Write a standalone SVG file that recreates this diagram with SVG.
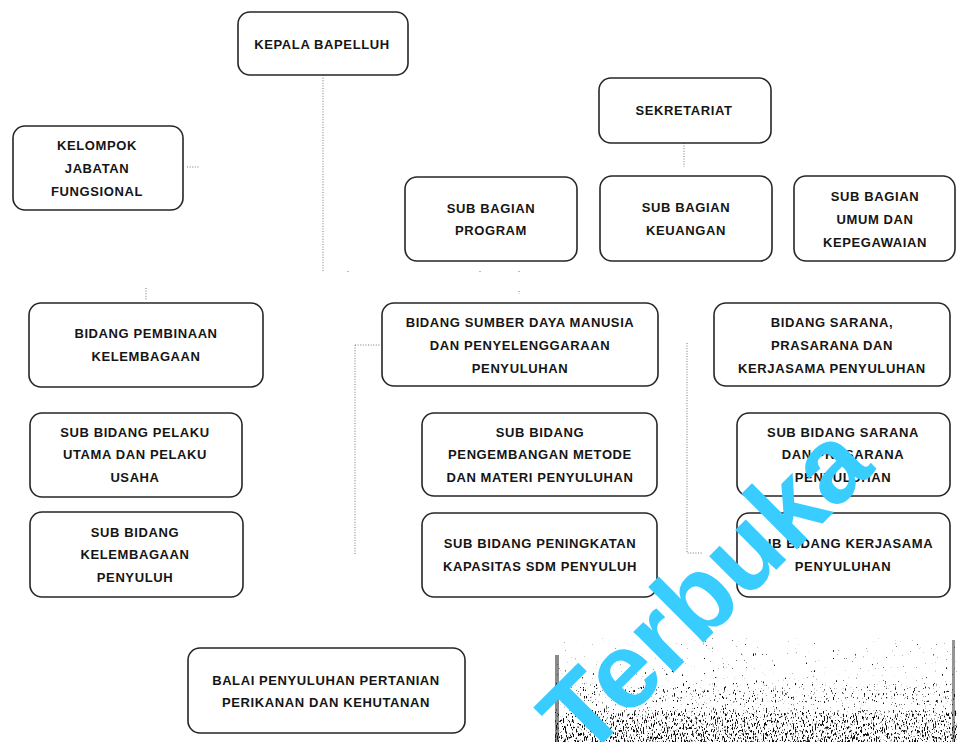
<svg xmlns="http://www.w3.org/2000/svg" width="957" height="742" viewBox="0 0 957 742">
<defs>
<style>
.box{fill:#fff;stroke:#262626;stroke-width:1.6}
.t{font-family:"Liberation Sans",Arial,sans-serif;font-weight:bold;font-size:13px;letter-spacing:0.6px;fill:#151515;text-anchor:middle}
.dot{fill:none;stroke:#777;stroke-width:1;stroke-dasharray:1 1.6}
.wm{font-family:"Liberation Sans",Arial,sans-serif;font-weight:bold;font-size:108px;fill:#38CCFF}
</style>
<linearGradient id="ng" x1="0" y1="0" x2="0" y2="1">
<stop offset="0" stop-color="#262626"/>
<stop offset="0.4" stop-color="#2e2e2e"/>
<stop offset="0.5" stop-color="#444"/>
<stop offset="0.6" stop-color="#444"/>
<stop offset="0.66" stop-color="#363636"/>
<stop offset="0.72" stop-color="#525252"/>
<stop offset="1" stop-color="#5e5e5e"/>
</linearGradient>
<filter id="noise" x="0" y="0" width="100%" height="100%" color-interpolation-filters="sRGB">
<feTurbulence type="fractalNoise" baseFrequency="0.9 0.3" numOctaves="2" seed="7" result="t"/>
<feColorMatrix in="t" type="matrix" values="1 0 0 0 0  1 0 0 0 0  1 0 0 0 0  0 0 0 0 1" result="o"/>
<feComposite in="o" in2="SourceGraphic" operator="arithmetic" k1="0" k2="1" k3="1" k4="0" result="s"/>
<feColorMatrix in="s" type="matrix" values="0 0 0 0 0.05  0 0 0 0 0.05  0 0 0 0 0.05  10 0 0 0 -9"/>
</filter>
</defs>
<rect width="957" height="742" fill="#fff"/>

<g id="connectors">
<path class="dot" d="M323 75V272"/>
<path class="dot" d="M187 167H200"/>
<path class="dot" d="M146 288V300"/>
<path class="dot" d="M684 143V167"/>
<path class="dot" d="M355 345V555M355 345H380"/>
<path class="dot" d="M687 343V553H702"/>
<path class="dot" d="M480 271V273M519 271V273M519 291V294M348 271V273"/>
</g>

<g id="kepala"><rect class="box" x="238" y="12" width="170" height="63" rx="12"/><text class="t" x="322" y="49">KEPALA BAPELLUH</text></g>
<g id="kelompok"><rect class="box" x="13" y="126" width="170" height="84" rx="12"/><text class="t" x="97" y="150">KELOMPOK</text><text class="t" x="97" y="173">JABATAN</text><text class="t" x="97" y="196">FUNGSIONAL</text></g>
<g id="sekretariat"><rect class="box" x="599" y="78" width="172" height="65" rx="12"/><text class="t" x="684" y="115">SEKRETARIAT</text></g>
<g id="program"><rect class="box" x="405" y="177" width="172" height="84" rx="12"/><text class="t" x="491" y="213">SUB BAGIAN</text><text class="t" x="491" y="235">PROGRAM</text></g>
<g id="keuangan"><rect class="box" x="600" y="176" width="172" height="85" rx="12"/><text class="t" x="686" y="212">SUB BAGIAN</text><text class="t" x="686" y="235">KEUANGAN</text></g>
<g id="umum"><rect class="box" x="794" y="176" width="161" height="85" rx="12"/><text class="t" x="875" y="201">SUB BAGIAN</text><text class="t" x="875" y="224">UMUM DAN</text><text class="t" x="875" y="247">KEPEGAWAIAN</text></g>
<g id="pembinaan"><rect class="box" x="29" y="303" width="234" height="84" rx="12"/><text class="t" x="146" y="338">BIDANG PEMBINAAN</text><text class="t" x="146" y="361">KELEMBAGAAN</text></g>
<g id="pelaku"><rect class="box" x="30" y="413" width="212" height="84" rx="12"/><text class="t" x="135" y="437">SUB BIDANG PELAKU</text><text class="t" x="135" y="459">UTAMA DAN PELAKU</text><text class="t" x="135" y="482">USAHA</text></g>
<g id="kelembagaan"><rect class="box" x="30" y="512" width="213" height="85" rx="12"/><text class="t" x="135" y="537">SUB BIDANG</text><text class="t" x="135" y="559">KELEMBAGAAN</text><text class="t" x="135" y="582">PENYULUH</text></g>
<g id="sdm"><rect class="box" x="382" y="303" width="276" height="83" rx="12"/><text class="t" x="520" y="327">BIDANG SUMBER DAYA MANUSIA</text><text class="t" x="520" y="350">DAN PENYELENGGARAAN</text><text class="t" x="520" y="373">PENYULUHAN</text></g>
<g id="sarana"><rect class="box" x="714" y="303" width="236" height="83" rx="12"/><text class="t" x="832" y="327">BIDANG SARANA,</text><text class="t" x="832" y="350">PRASARANA DAN</text><text class="t" x="832" y="373">KERJASAMA PENYULUHAN</text></g>
<g id="pengembangan"><rect class="box" x="422" y="413" width="235" height="83" rx="12"/><text class="t" x="540" y="437">SUB BIDANG</text><text class="t" x="540" y="459">PENGEMBANGAN METODE</text><text class="t" x="540" y="482">DAN MATERI PENYULUHAN</text></g>
<g id="peningkatan"><rect class="box" x="422" y="513" width="235" height="84" rx="12"/><text class="t" x="540" y="548">SUB BIDANG PENINGKATAN</text><text class="t" x="540" y="571">KAPASITAS SDM PENYULUH</text></g>
<g id="subsarana"><rect class="box" x="737" y="413" width="213" height="83" rx="12"/><text class="t" x="843" y="437">SUB BIDANG SARANA</text><text class="t" x="843" y="459">DAN PRASARANA</text><text class="t" x="843" y="482">PENYULUHAN</text></g>
<g id="kerjasama"><rect class="box" x="737" y="513" width="213" height="84" rx="12"/><text class="t" x="843" y="548">SUB BIDANG KERJASAMA</text><text class="t" x="843" y="571">PENYULUHAN</text></g>
<g id="balai"><rect class="box" x="188" y="648" width="277" height="85" rx="12"/><text class="t" x="326" y="685">BALAI PENYULUHAN PERTANIAN</text><text class="t" x="326" y="707">PERIKANAN DAN KEHUTANAN</text></g>

<g id="scan-noise">
<rect x="555" y="638" width="402" height="104" fill="url(#ng)" filter="url(#noise)"/>
<rect x="555" y="655" width="4" height="87" fill="#151515" opacity="0.5"/>
<rect x="952" y="640" width="3" height="102" fill="#151515" opacity="0.45"/>
</g>

<text class="wm" x="585" y="761" transform="rotate(-45 585 761)">Terbuka</text>
</svg>
